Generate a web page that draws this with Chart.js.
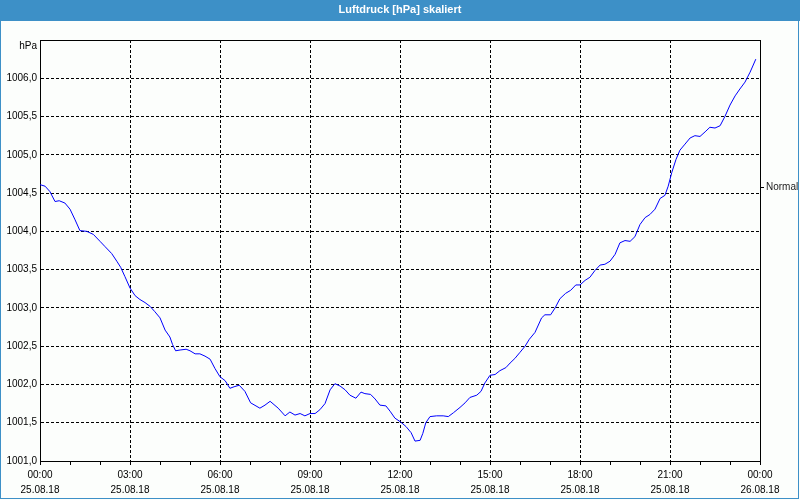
<!DOCTYPE html>
<html>
<head>
<meta charset="utf-8">
<title>Luftdruck [hPa] skaliert</title>
<script src="https://cdn.jsdelivr.net/npm/chart.js@4/dist/chart.umd.min.js"></script>
<style>
  html, body { margin: 0; padding: 0; background: #fcfefc; }
  #wrap { width: 800px; height: 500px; }
</style>
</head>
<body>
<div id="wrap"><canvas id="chart" width="800" height="500"></canvas></div>
<script>
// Stunden seit 00:00 (25.08.18) und Luftdruck in hPa
const hours = [
  0.00, 0.17, 0.33, 0.50, 0.64, 0.83, 1.00, 1.17, 1.33, 1.56, 1.78, 2.00,
  2.17, 2.39, 2.56, 2.69, 2.83, 3.00, 3.17, 3.33, 3.50, 3.67, 3.83, 4.00,
  4.17, 4.33, 4.42, 4.52, 4.67, 4.87, 5.00, 5.17, 5.33, 5.50, 5.67, 5.83,
  6.00, 6.17, 6.33, 6.47, 6.64, 6.83, 7.02, 7.33, 7.50, 7.67, 7.94, 8.17,
  8.33, 8.50, 8.67, 8.83, 9.00, 9.17, 9.33, 9.50, 9.67, 9.83, 10.00, 10.17,
  10.33, 10.53, 10.70, 10.83, 11.02, 11.17, 11.33, 11.53, 11.67, 11.83, 12.02, 12.20,
  12.37, 12.50, 12.67, 12.76, 12.86, 13.00, 13.22, 13.44, 13.61, 13.78, 14.00, 14.17,
  14.33, 14.56, 14.70, 14.83, 15.00, 15.17, 15.33, 15.53, 15.67, 15.83, 16.00, 16.17,
  16.31, 16.50, 16.72, 16.83, 17.02, 17.17, 17.33, 17.52, 17.69, 17.86, 18.00, 18.17,
  18.33, 18.50, 18.67, 18.83, 19.00, 19.17, 19.33, 19.50, 19.67, 19.83, 20.00, 20.17,
  20.33, 20.50, 20.67, 20.83, 20.94, 21.06, 21.20, 21.33, 21.50, 21.67, 21.83, 22.00,
  22.17, 22.33, 22.50, 22.67, 22.83, 23.00, 23.17, 23.33, 23.50, 23.67, 23.76, 23.86
];
const pressure = [
  1004.61, 1004.59, 1004.52, 1004.39, 1004.40, 1004.37, 1004.29, 1004.15, 1004.01, 1004.00, 1003.96, 1003.87,
  1003.80, 1003.71, 1003.61, 1003.53, 1003.41, 1003.26, 1003.16, 1003.11, 1003.07, 1003.02, 1002.95, 1002.87,
  1002.71, 1002.62, 1002.52, 1002.44, 1002.45, 1002.46, 1002.44, 1002.40, 1002.40, 1002.37, 1002.33, 1002.21,
  1002.10, 1002.05, 1001.95, 1001.97, 1001.99, 1001.91, 1001.76, 1001.69, 1001.73, 1001.78, 1001.69, 1001.59,
  1001.64, 1001.60, 1001.62, 1001.59, 1001.62, 1001.62, 1001.67, 1001.75, 1001.93, 1002.01, 1001.98, 1001.93,
  1001.86, 1001.82, 1001.90, 1001.88, 1001.87, 1001.81, 1001.73, 1001.72, 1001.65, 1001.56, 1001.51, 1001.45,
  1001.37, 1001.26, 1001.27, 1001.36, 1001.50, 1001.58, 1001.59, 1001.59, 1001.58, 1001.63, 1001.70, 1001.76,
  1001.83, 1001.86, 1001.91, 1002.02, 1002.12, 1002.13, 1002.18, 1002.22, 1002.28, 1002.34, 1002.42, 1002.50,
  1002.59, 1002.68, 1002.87, 1002.91, 1002.91, 1003.00, 1003.12, 1003.19, 1003.23, 1003.30, 1003.30, 1003.36,
  1003.40, 1003.49, 1003.56, 1003.57, 1003.61, 1003.70, 1003.85, 1003.88, 1003.87, 1003.93, 1004.09, 1004.18,
  1004.22, 1004.29, 1004.43, 1004.47, 1004.59, 1004.77, 1004.94, 1005.06, 1005.14, 1005.22, 1005.25, 1005.24,
  1005.30, 1005.36, 1005.35, 1005.38, 1005.50, 1005.65, 1005.77, 1005.86, 1005.95, 1006.08, 1006.16, 1006.25
];

// Achsenbeschriftungen
const timeLabels = ['00:00', '03:00', '06:00', '09:00', '12:00', '15:00', '18:00', '21:00', '00:00'];
const dateLabels = ['25.08.18', '25.08.18', '25.08.18', '25.08.18', '25.08.18', '25.08.18', '25.08.18', '25.08.18', '26.08.18'];
const yMin = 1001.0;
const yMax = 1006.5;
const normalValue = 1004.57;

Chart.defaults.font.family = "'Liberation Sans', Arial, sans-serif";
Chart.defaults.font.size = 10;
Chart.defaults.color = '#000';

// Titelleiste, Rahmen und obere Linie des Diagramms
const frame = {
  id: 'frame',
  beforeDraw(chart) {
    const c = chart.ctx;
    c.save();
    c.fillStyle = '#fcfefc';
    c.fillRect(0, 0, chart.width, chart.height);
    c.fillStyle = '#3d90c7';
    c.fillRect(0, 0, chart.width, 21);
    c.strokeStyle = '#3d90c7';
    c.lineWidth = 1;
    c.strokeRect(0.5, 0.5, chart.width - 2, chart.height - 2);
    c.restore();
  },
  afterDraw(chart) {
    const a = chart.chartArea;
    const c = chart.ctx;
    c.save();
    c.strokeStyle = '#000';
    c.lineWidth = 1;
    c.beginPath();
    c.moveTo(a.left, Math.round(a.top) + 0.5);
    c.lineTo(a.right, Math.round(a.top) + 0.5);
    c.stroke();
    c.restore();
  }
};

new Chart(document.getElementById('chart'), {
  type: 'line',
  data: {
    datasets: [{
      label: 'Luftdruck',
      data: hours.map((h, i) => ({ x: h, y: pressure[i] })),
      borderColor: '#0000ff',
      borderWidth: 1,
      pointRadius: 0,
      tension: 0,
      fill: false
    }]
  },
  options: {
    responsive: false,
    animation: false,
    devicePixelRatio: 1,
    layout: { padding: 0 },
    plugins: {
      legend: { display: false },
      tooltip: { enabled: false },
      title: {
        display: true,
        text: 'Luftdruck [hPa] skaliert',
        color: '#ffffff',
        font: { size: 11, weight: 'bold' },
        padding: { top: 3, bottom: 23.8 }
      }
    },
    scales: {
      x: {
        type: 'linear',
        min: 0,
        max: 24,
        afterFit: (s) => { s.height = 39; },
        ticks: {
          stepSize: 1,
          autoSkip: false,
          maxRotation: 0,
          padding: 3,
          font: { size: 10, lineHeight: 1.45 },
          callback: (v) => v % 3 === 0 ? [timeLabels[v / 3], dateLabels[v / 3]] : ''
        },
        grid: {
          color: (ctx) => (ctx.tick && ctx.tick.value % 3 === 0 && ctx.tick.value > 0 && ctx.tick.value < 24) ? '#000' : 'transparent',
          tickColor: '#000',
          tickLength: 4,
          lineWidth: 1
        },
        border: { display: true, color: '#000', width: 1, dash: [3, 2] }
      },
      y: {
        min: yMin,
        max: yMax,
        afterFit: (s) => { s.width = 40; },
        ticks: {
          stepSize: 0.5,
          padding: 3,
          callback: (v) => v === yMax ? ['', 'hPa'] : v.toFixed(1).replace('.', ',')
        },
        grid: {
          drawTicks: false,
          color: (ctx) => (ctx.tick && ctx.tick.value > yMin && ctx.tick.value < yMax) ? '#000' : 'transparent',
          lineWidth: 1
        },
        border: { display: true, color: '#000', width: 1, dash: [3, 2] }
      },
      y2: {
        position: 'right',
        min: yMin,
        max: yMax,
        afterFit: (s) => { s.width = 40; },
        afterBuildTicks: (s) => { s.ticks = [{ value: normalValue }]; },
        ticks: {
          padding: 2,
          color: '#222',
          callback: () => 'Normal'
        },
        grid: {
          drawOnChartArea: false,
          tickColor: '#000',
          tickLength: 4
        },
        border: { display: true, color: '#000', width: 1 }
      }
    }
  },
  plugins: [frame]
});
</script>
</body>
</html>
